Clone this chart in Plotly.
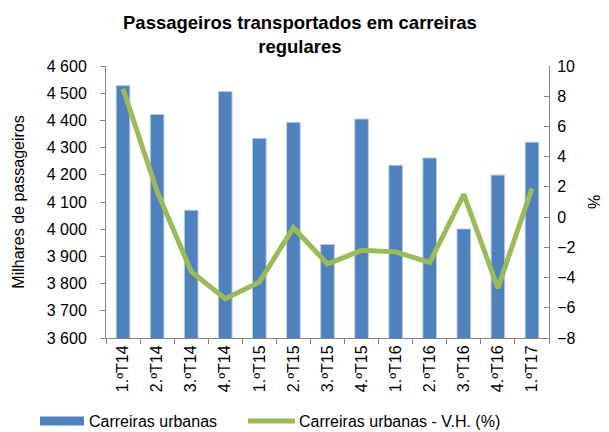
import plotly.graph_objects as go

categories = ["1.ºT14", "2.ºT14", "3.ºT14", "4.ºT14", "1.ºT15", "2.ºT15", "3.ºT15",
              "4.ºT15", "1.ºT16", "2.ºT16", "3.ºT16", "4.ºT16", "1.ºT17"]
passageiros = [4528, 4422, 4070, 4506, 4334, 4393, 3944, 4405, 4235, 4262, 4001, 4199, 4320]
variacao = [8.5, 1.7, -3.6, -5.4, -4.3, -0.7, -3.1, -2.2, -2.3, -3.0, 1.5, -4.7, 1.9]
y_left_ticks = list(range(3600, 4601, 100))
y_left_labels = [f"{v//1000} {v%1000:03d}" for v in y_left_ticks]
y_right_ticks = list(range(-8, 11, 2))
series_names = ["Carreiras urbanas", "Carreiras urbanas - V.H. (%)"]
title_text = "<b>Passageiros transportados em carreiras<br>regulares</b>"

FONT = "Liberation Sans, Arial, sans-serif"
AX = "#868686"
BLUE = "#4F81BD"
GREEN = "#9BBB59"

OFF = 8  # page body margin offset
W, H = 609 - OFF, 432 - OFF
L, R, T, B = 106 - OFF, 60, 66 - OFF, 94
PW, PH = W - L - R, H - T - B


def px(x):
    # x given in page pixels
    return (x - OFF - L) / PW


def py(y):
    return (H - B - (y - OFF)) / PH


fig = go.Figure()
fig.add_trace(go.Bar(x=categories, y=passageiros, name=series_names[0],
                     marker=dict(color=BLUE, line=dict(color="#B9CDE5", width=1)),
                     width=0.4, showlegend=False))
fig.add_trace(go.Scatter(x=categories, y=variacao, name=series_names[1],
                         yaxis="y2", mode="lines", showlegend=False,
                         line=dict(color=GREEN, width=5)))

# title as annotation (handles multi-line top anchoring reliably)
fig.add_annotation(text=title_text, xref="paper", yref="paper",
                   x=px(300), y=py(10), xanchor="center", yanchor="top",
                   showarrow=False, font=dict(size=18.5), align="center")

# custom legend (keys + labels)
ly = 421
fig.add_shape(type="rect", xref="paper", yref="paper",
              x0=px(40), x1=px(84), y0=py(ly + 4.5), y1=py(ly - 4.5),
              fillcolor=BLUE, line=dict(width=0))
fig.add_shape(type="line", xref="paper", yref="paper",
              x0=px(248), x1=px(295), y0=py(ly), y1=py(ly),
              line=dict(color=GREEN, width=5))
fig.add_annotation(text=series_names[0], xref="paper", yref="paper",
                   x=px(87), y=py(ly), xanchor="left", yanchor="middle",
                   showarrow=False, font=dict(size=16))
fig.add_annotation(text=series_names[1], xref="paper", yref="paper",
                   x=px(297), y=py(ly), xanchor="left", yanchor="middle",
                   showarrow=False, font=dict(size=16))

fig.update_layout(
    width=W, height=H,
    margin=dict(l=L, r=R, t=T, b=B, autoexpand=False),
    paper_bgcolor="white", plot_bgcolor="white",
    font=dict(family=FONT, size=16, color="#000000"),
    showlegend=False,
    xaxis=dict(type="category", showline=True, linecolor=AX, linewidth=1,
               ticks="outside", tickson="boundaries", ticklen=5, tickcolor=AX,
               tickangle=-90, tickfont=dict(size=16), showgrid=False, automargin=False),
    yaxis=dict(range=[3600, 4600], tickvals=y_left_ticks, ticktext=y_left_labels,
               showline=True, linecolor=AX, ticks="outside", ticklen=5, tickcolor=AX,
               ticklabelstandoff=10,
               showgrid=False, zeroline=False, tickfont=dict(size=16), automargin=False,
               title=dict(text="Milhares de passageiros", font=dict(size=16), standoff=18)),
    yaxis2=dict(range=[-8, 10], tickvals=y_right_ticks, overlaying="y", side="right",
                showline=True, linecolor=AX, ticks="inside", ticklen=5, tickcolor=AX,
                ticklabelstandoff=4,
                showgrid=False, zeroline=False, tickfont=dict(size=16), automargin=False,
                title=dict(text="%", font=dict(size=16), standoff=14)),
)

fig.write_html("out.html")
